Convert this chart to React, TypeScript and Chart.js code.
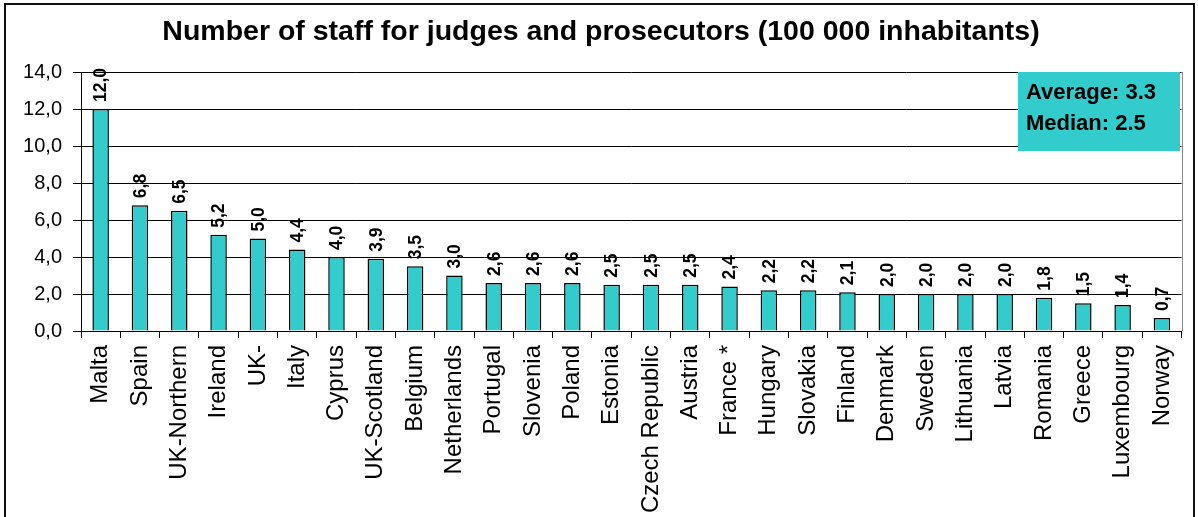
import { useEffect, useRef } from 'react';
import { Chart, registerables } from 'chart.js';

Chart.register(...registerables);

const titleText = 'Number of staff for judges and prosecutors (100 000 inhabitants)';

const categories = [
  'Malta', 'Spain', 'UK-Northern', 'Ireland', 'UK-', 'Italy', 'Cyprus', 'UK-Scotland',
  'Belgium', 'Netherlands', 'Portugal', 'Slovenia', 'Poland', 'Estonia', 'Czech Republic',
  'Austria', 'France *', 'Hungary', 'Slovakia', 'Finland', 'Denmark', 'Sweden', 'Lithuania',
  'Latvia', 'Romania', 'Greece', 'Luxembourg', 'Norway',
];

const values = [
  12.0, 6.8, 6.5, 5.2, 5.0, 4.4, 4.0, 3.9,
  3.5, 3.0, 2.6, 2.6, 2.6, 2.5, 2.5,
  2.5, 2.4, 2.2, 2.2, 2.1, 2.0, 2.0, 2.0,
  2.0, 1.8, 1.5, 1.4, 0.7,
];

const summaryLines = ['Average: 3.3', 'Median: 2.5'];

const yMin = 0;
const yMax = 14;
const yStep = 2;

const FONT = "'Liberation Sans', Arial, Helvetica, sans-serif";
const BAR_COLOR = '#33CCCC';

const fmt = (v: number) => v.toFixed(1).replace('.', ',');

const framePlugin = {
  id: 'frame',
  beforeDraw(chart: any) {
    const ctx = chart.ctx;
    ctx.save();
    ctx.strokeStyle = '#111';
    ctx.lineWidth = 2;
    ctx.strokeRect(5, 4, 1189, 600);
    ctx.restore();
  },
  afterDraw(chart: any) {
    const ctx = chart.ctx;
    const a = chart.chartArea;
    ctx.save();
    // plot area right border (gray)
    ctx.strokeStyle = '#888';
    ctx.lineWidth = 1;
    ctx.beginPath();
    ctx.moveTo(Math.round(a.right) + 0.5, a.top);
    ctx.lineTo(Math.round(a.right) + 0.5, a.bottom);
    ctx.stroke();
    // summary box
    const bx = 1018, by = 72, bw = 162, bh = 79;
    ctx.fillStyle = BAR_COLOR;
    ctx.fillRect(bx, by, bw, bh);
    ctx.fillStyle = '#000';
    ctx.font = `bold 22px ${FONT}`;
    ctx.textAlign = 'left';
    ctx.textBaseline = 'alphabetic';
    summaryLines.forEach((line, i) => {
      ctx.fillText(line, bx + 8, by + 27 + i * 31);
    });
    ctx.restore();
  },
};

const valueLabelPlugin = {
  id: 'valueLabels',
  afterDatasetsDraw(chart: any) {
    const ctx = chart.ctx;
    const meta = chart.getDatasetMeta(0);
    ctx.save();
    ctx.fillStyle = '#000';
    ctx.font = `bold 17.5px ${FONT}`;
    ctx.textAlign = 'left';
    ctx.textBaseline = 'middle';
    meta.data.forEach((bar: any, i: number) => {
      ctx.save();
      ctx.translate(bar.x + 1, bar.y - 7);
      ctx.rotate(-Math.PI / 2);
      ctx.fillText(fmt(values[i]), 0, 0);
      ctx.restore();
    });
    ctx.restore();
  },
};

export default function App() {
  const ref = useRef<HTMLCanvasElement>(null);

  useEffect(() => {
    const canvas = ref.current;
    if (!canvas) return;
    const chart = new Chart(canvas, {
      type: 'bar',
      data: {
        labels: categories,
        datasets: [
          {
            data: values,
            backgroundColor: BAR_COLOR,
            borderColor: '#000',
            borderWidth: 1.5,
            categoryPercentage: 1,
            barPercentage: 0.42,
          },
        ],
      },
      options: {
        responsive: false,
        animation: false,
        devicePixelRatio: 1,
        layout: { padding: { top: 0, left: 19, right: 15, bottom: 0 } },
        plugins: {
          legend: { display: false },
          tooltip: { enabled: false },
          title: {
            display: true,
            text: titleText,
            color: '#000',
            font: { family: FONT, size: 28.5, weight: 'bold' },
            padding: { top: 15, bottom: 22.8 },
          },
        },
        scales: {
          x: {
            offset: true,
            grid: {
              offset: true,
              drawOnChartArea: false,
              drawTicks: true,
              tickLength: 7,
              color: '#000',
            },
            border: { display: true, color: '#000', width: 1 },
            ticks: {
              color: '#000',
              font: { family: FONT, size: 24 },
              minRotation: 90,
              maxRotation: 90,
              autoSkip: false,
              padding: 7,
            },
            afterFit(scale: any) {
              scale.height = 186;
            },
          },
          y: {
            min: yMin,
            max: yMax,
            grid: { color: '#000', lineWidth: 1, tickLength: 8, drawTicks: true },
            border: { display: true, color: '#000', width: 1 },
            ticks: {
              stepSize: yStep,
              color: '#000',
              font: { family: FONT, size: 20 },
              padding: 11,
              callback: (v: any) => fmt(Number(v)),
            },
            afterFit(scale: any) {
              scale.width = 62;
            },
          },
        },
      },
      plugins: [framePlugin, valueLabelPlugin],
    });
    return () => chart.destroy();
  }, []);

  return (
    <div style={{ position: 'fixed', left: 0, top: 0, width: 1198, height: 517, background: '#fff' }}>
      <canvas ref={ref} width={1198} height={517} style={{ display: 'block', width: 1198, height: 517 }} />
    </div>
  );
}
